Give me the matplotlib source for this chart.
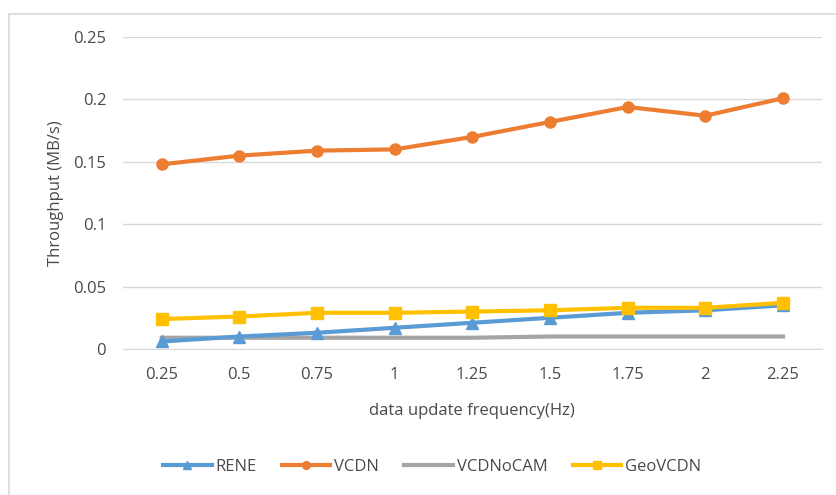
import matplotlib.pyplot as plt
from matplotlib.lines import Line2D

# data
freq = ["0.25", "0.5", "0.75", "1", "1.25", "1.5", "1.75", "2", "2.25"]
rene = [0.006, 0.010, 0.013, 0.017, 0.021, 0.025, 0.029, 0.031, 0.035]
vcdn = [0.148, 0.155, 0.159, 0.160, 0.170, 0.182, 0.194, 0.187, 0.201]
vcdnocam = [0.009, 0.009, 0.009, 0.009, 0.009, 0.010, 0.010, 0.010, 0.010]
geovcdn = [0.024, 0.026, 0.029, 0.029, 0.030, 0.031, 0.033, 0.033, 0.037]
yticks = [0, 0.05, 0.1, 0.15, 0.2, 0.25]
ytick_labels = ["0", "0.05", "0.1", "0.15", "0.2", "0.25"]

plt.rcParams['font.family'] = ['Open Sans', 'DejaVu Sans']
txt = "#4a4a4a"

fig = plt.figure(figsize=(8.36, 4.95), dpi=100)
ax = fig.add_axes([0.147, 0.295, 0.836, 0.63])

x = list(range(len(freq)))
ax.plot(x, rene, color="#5B9BD5", lw=3, marker="^", ms=8, label="RENE", zorder=3)
ax.plot(x, vcdn, color="#ED7D31", lw=3, marker="o", ms=8, label="VCDN", zorder=3)
ax.plot(x, vcdnocam, color="#A5A5A5", lw=3, label="VCDNoCAM", zorder=2)
ax.plot(x, geovcdn, color="#FFC000", lw=3, marker="s", ms=8, label="GeoVCDN", zorder=4)

ax.set_xlim(-0.5, len(freq) - 0.5)
ax.set_ylim(0, 0.25)
ax.set_xticks(x)
ax.set_xticklabels(freq)
ax.set_yticks(yticks)
ax.set_yticklabels(ytick_labels)
ax.tick_params(length=0, labelsize=12, colors=txt)
ax.tick_params(axis="x", pad=13)
ax.tick_params(axis="y", pad=12)
ax.grid(axis="y", color="#d9d9d9", lw=1)
ax.set_axisbelow(True)
for s in ["top", "right", "left"]:
    ax.spines[s].set_visible(False)
ax.spines["bottom"].set_color("#d9d9d9")

ax.set_xlabel("data update frequency(Hz)", fontsize=12, color=txt, va="center")
ax.xaxis.set_label_coords(0.5, -0.198)
ax.set_ylabel("Throughput (MB/s)", fontsize=12, color=txt, va="center")
ax.yaxis.set_label_coords(-0.096, 0.5)

fig.legend(*ax.get_legend_handles_labels(), loc="center", bbox_to_anchor=(0.517, 0.057),
           ncol=4, frameon=False, fontsize=12, labelcolor=txt, handlelength=2.9,
           columnspacing=1.5, handletextpad=0.25, markerscale=0.7)

# outer chart frame
fig.add_artist(Line2D([0.011, 0.011], [0, 0.972], color="#d9d9d9", lw=1.2))
fig.add_artist(Line2D([0.011, 1.0], [0.972, 0.972], color="#d9d9d9", lw=1.2))

fig.savefig("out.png", dpi=100)
